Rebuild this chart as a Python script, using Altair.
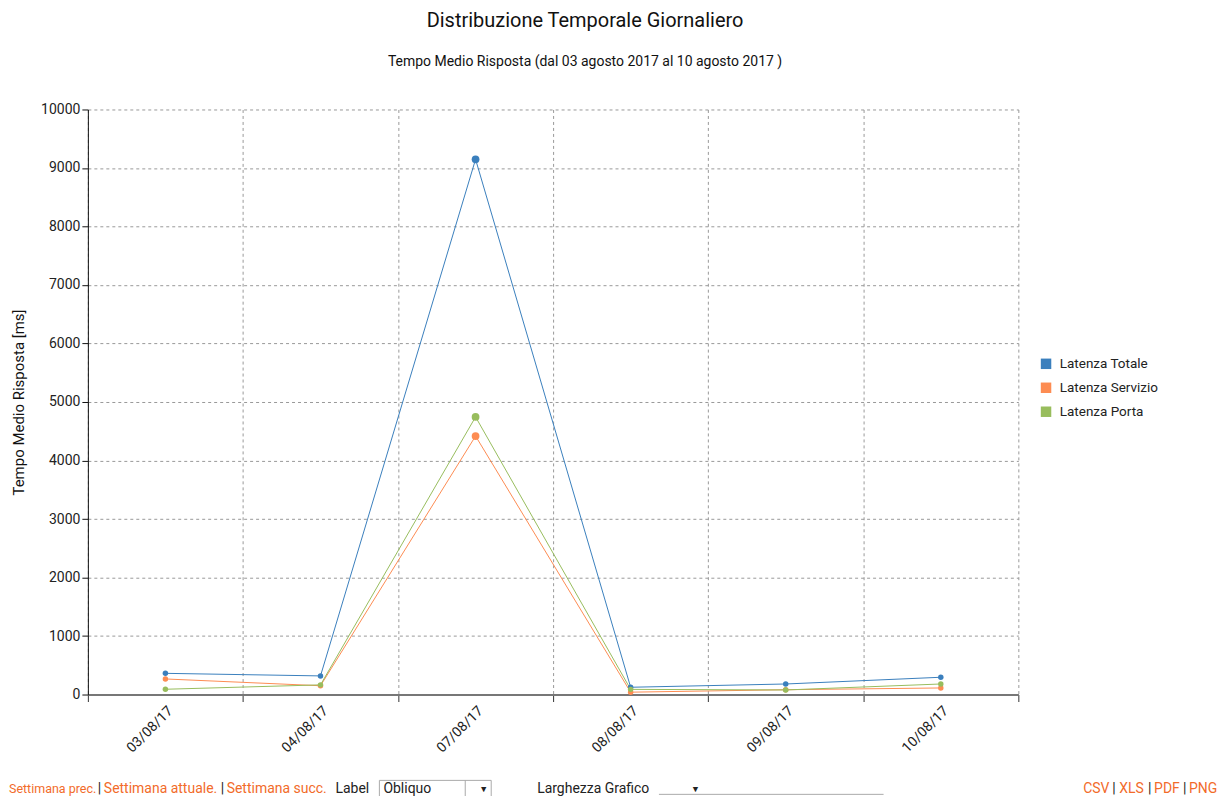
import altair as alt
import pandas as pd

dates = ["03/08/17", "04/08/17", "07/08/17", "08/08/17", "09/08/17", "10/08/17"]
series_names = ["Latenza Totale", "Latenza Servizio", "Latenza Porta"]
totale = [362, 318, 9148, 124, 180, 295]
servizio = [266, 150, 4418, 40, 82, 112]
porta = [90, 165, 4745, 88, 78, 180]
colors = ["#3a7fbd", "#fd8c52", "#98bd5d"]
y_ticks = list(range(0, 10001, 1000))

rows = []
for name, vals in zip(series_names, [totale, servizio, porta]):
    for d, v in zip(dates, vals):
        rows.append({"data": d, "serie": name, "valore": v})
df = pd.DataFrame(rows)

FONT = "Roboto"
ORANGE = "#f26b2a"

x_enc = alt.X(
    "data:N",
    sort=dates,
    scale=alt.Scale(type="band", paddingInner=0, paddingOuter=0),
    axis=alt.Axis(
        title=None,
        tickBand="extent",
        labelAngle=-45,
        labelFont=FONT,
        labelFontSize=14,
        labelColor="#222",
        domainColor="#777",
        domainWidth=2,
        tickColor="#333",
        tickSize=7,
        grid=True,
        gridDash=[3, 3],
        gridColor="#999",
        labelPadding=2,
    ),
)
y_enc = alt.Y(
    "valore:Q",
    scale=alt.Scale(domain=[0, 10000], nice=False),
    axis=alt.Axis(
        values=y_ticks,
        format="d",
        title="Tempo Medio Risposta [ms]",
        titleFont=FONT,
        titleFontSize=15,
        titleFontWeight="normal",
        titleColor="#111",
        titlePadding=14,
        labelFont=FONT,
        labelFontSize=14,
        labelColor="#222",
        labelPadding=2,
        domainColor="#111",
        tickColor="#111",
        tickSize=6,
        grid=True,
        gridDash=[3, 3],
        gridColor="#999",
    ),
)
color_enc = alt.Color(
    "serie:N",
    sort=series_names,
    scale=alt.Scale(domain=series_names, range=colors),
    legend=alt.Legend(
        title=None,
        orient="none",
        legendX=953,
        legendY=248,
        symbolType="square",
        symbolSize=110,
        symbolStrokeWidth=0,
        symbolOpacity=1,
        labelFont=FONT,
        labelFontSize=13.5,
        labelColor="#222",
        labelOffset=7,
        rowPadding=9,
    ),
)

base = alt.Chart(df)
lines = base.mark_line(strokeWidth=1).encode(x=x_enc, y=y_enc, color=color_enc)
points = base.mark_circle(opacity=1).encode(
    x=x_enc,
    y=y_enc,
    color=color_enc,
    size=alt.condition("datum.data == '07/08/17'", alt.value(60), alt.value(30)),
)

TY = 681


def txt(s, x, color="#222", size=14, align="left"):
    return alt.Chart(pd.DataFrame({"t": [s]})).mark_text(
        font=FONT, fontSize=size, color=color, align=align, baseline="middle"
    ).encode(text="t:N", x=alt.value(x), y=alt.value(TY))


ui = [
    txt("Settimana prec.", -79, ORANGE, 12.5),
    txt("|", 10, "#222"),
    txt("Settimana attuale.", 16, ORANGE),
    txt("|", 133, "#222"),
    txt("Settimana succ.", 139, ORANGE),
    txt("Label", 248),
    txt("Obliquo", 296),
    txt("▼", 392, "#222", 9),
    txt("Larghezza Grafico", 450),
    txt("▼", 604, "#222", 9),
    txt("CSV", 997, ORANGE),
    txt("|", 1026),
    txt("XLS", 1033, ORANGE),
    txt("|", 1062),
    txt("PDF", 1068, ORANGE),
    txt("|", 1097),
    txt("PNG", 1103, ORANGE),
]
box = alt.Chart(pd.DataFrame({"a": [0]})).mark_rect(
    fill="white", stroke="#aaa", strokeWidth=1
).encode(x=alt.value(292), x2=alt.value(404), y=alt.value(672), y2=alt.value(700))
sep = alt.Chart(pd.DataFrame({"a": [0]})).mark_rule(color="#aaa").encode(
    x=alt.value(378), y=alt.value(672), y2=alt.value(700)
)
under = alt.Chart(pd.DataFrame({"a": [0]})).mark_rule(color="#aaa").encode(
    x=alt.value(572), x2=alt.value(797), y=alt.value(686)
)

chart = alt.layer(lines, points, box, sep, under, *ui).properties(
    width=932,
    height=586,
    autosize=alt.AutoSizeParams(type="none"),
    padding={"left": 80, "top": 101, "right": 205, "bottom": 101},
    title=alt.TitleParams(
        text="Distribuzione Temporale Giornaliero",
        subtitle="Tempo Medio Risposta (dal 03 agosto 2017 al 10 agosto 2017 )",
        font=FONT,
        fontSize=20,
        fontWeight="normal",
        color="#111",
        subtitleFont=FONT,
        subtitleFontSize=14,
        subtitleColor="#111",
        anchor="middle",
        frame="group",
        dx=32,
        offset=34,
        subtitlePadding=24,
    ),
).configure_view(stroke=None)

chart.save("out.html", embed_options={"renderer": "svg", "actions": False})
